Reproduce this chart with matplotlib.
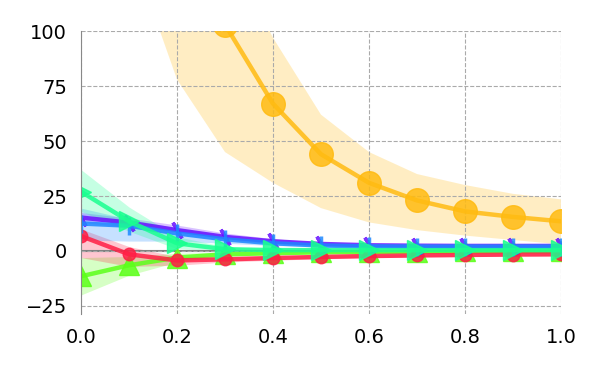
import numpy as np
import matplotlib
matplotlib.use("Agg")
import matplotlib.pyplot as plt

# =========================
# DATA
# =========================
x = [0.0, 0.1, 0.2, 0.3, 0.4, 0.5, 0.6, 0.7, 0.8, 0.9, 1.0]

amber_mean = [440, 270, 165, 103, 67, 44, 31, 23, 18, 15.5, 13.5]
amber_low = [200, 140, 78, 45, 31, 19.5, 13, 9.5, 7, 5, 3]
amber_high = [600, 380, 230, 140, 97, 62, 45, 35, 30, 26, 23.5]

lime_mean = [-11.5, -6.5, -3, -1.5, -1, -0.6, -0.4, -0.3, -0.2, -0.2, -0.2]
lime_low = [-20, -11, -5, -2.5, -1.8, -1.2, -1, -0.8, -0.7, -0.7, -0.7]
lime_high = [-3, -2.5, -1, -0.5, -0.3, 0, 0.1, 0.2, 0.3, 0.3, 0.3]

red_mean = [6.8, -1.5, -4.3, -3.8, -3.2, -2.7, -2.3, -2.0, -1.8, -1.6, -1.5]
red_low = [-3, -7, -6.5, -5, -4.2, -3.5, -3, -2.7, -2.5, -2.3, -2.2]
red_high = [10, 2, -2.5, -2.6, -2.2, -1.9, -1.6, -1.3, -1.1, -0.9, -0.8]

violet_mean = [15.2, 12.9, 9.5, 6.4, 4.4, 3.2, 2.6, 2.4, 2.3, 2.3, 2.3]
violet_low = [13, 10.8, 7.5, 4.8, 3.4, 2.5, 2.1, 1.9, 1.8, 1.8, 1.8]
violet_high = [17.5, 15, 11.8, 8.2, 5.6, 4, 3.2, 2.9, 2.8, 2.8, 2.8]

blue_mean = [12.5, 11.5, 8, 5.3, 3.5, 2.5, 2.1, 2.0, 2.0, 2.0, 2.0]
blue_low = [5, 4.5, 4.5, 3.5, 2.5, 1.8, 1.5, 1.5, 1.5, 1.5, 1.5]
blue_high = [19.5, 14.5, 10.5, 7, 4.5, 3.2, 2.7, 2.5, 2.5, 2.5, 2.5]

teal_mean = [27, 13.5, 3.5, 0.8, 0.4, 0.4, 0.4, 0.4, 0.4, 0.4, 0.4]
teal_low = [18, 9, 1, 0, -0.3, -0.3, -0.3, -0.3, -0.3, -0.3, -0.3]
teal_high = [37, 20, 6.5, 2, 1, 1, 1, 1, 1, 1, 1]

series = [
    # (mean, low, high, colour, marker, markersize)
    (amber_mean, amber_low, amber_high, "#ffbb11", "o", 17),
    (lime_mean, lime_low, lime_high, "#5cff1a", "^", 15),
    (red_mean, red_low, red_high, "#ff1f45", "o", 9),
    (violet_mean, violet_low, violet_high, "#6a10ff", (2, 2, 30), 13),
    (blue_mean, blue_low, blue_high, "#1e88ff", "|", 13),
    (teal_mean, teal_low, teal_high, "#1aff90", ">", 15),
]

# =========================
# PLOT
# =========================
fig = plt.figure(figsize=(6, 3.75), dpi=100)
ax = fig.add_axes([0.135, 0.163, 0.8, 0.754])

for mean, low, high, col, mk, ms in series:
    ax.fill_between(x, low, high, color=col, alpha=0.25, lw=0)
    ax.plot(x, mean, color=col, lw=3.2, marker=mk, markersize=ms,
            markeredgewidth=2.5 if mk in ("|", (2, 2, 30)) else 1,
            alpha=0.85, markeredgecolor=col)

ax.axhline(0, color="#808080", lw=1.5, zorder=1)

ax.set_xlim(0, 1)
ax.set_ylim(-28.6, 100)
ax.set_xticks([0.0, 0.2, 0.4, 0.6, 0.8, 1.0])
ax.set_yticks([-25, 0, 25, 50, 75, 100])
ax.grid(True, ls="--", color="#aaaaaa", lw=0.8)
ax.tick_params(length=0, labelsize=14, pad=10)

for s in ["top", "right", "bottom"]:
    ax.spines[s].set_visible(False)
ax.spines["left"].set_color("#888888")

fig.savefig("out.png", dpi=100)
